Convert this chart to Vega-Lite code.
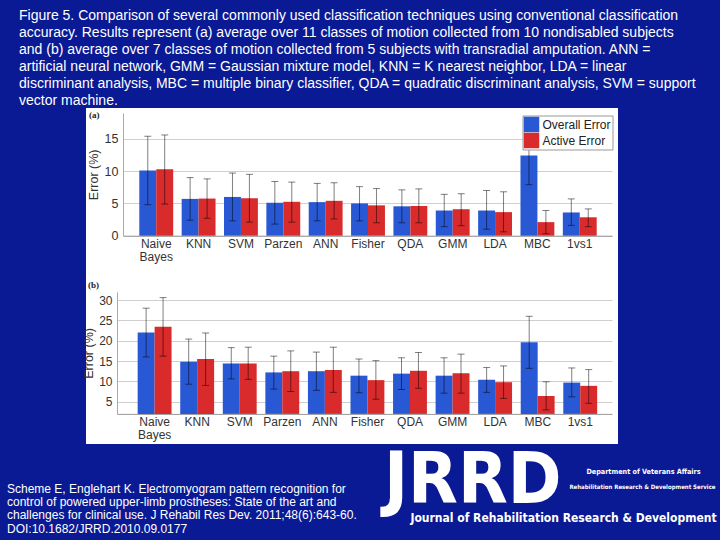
{
  "$schema": "https://vega.github.io/schema/vega-lite/v6.json",
  "background": "#0a1a94",
  "padding": {"left": 7, "top": 9, "right": 0, "bottom": 0},
  "autosize": {"type": "pad"},
  "title": {
    "text": [
      "Figure 5. Comparison of several commonly used classification techniques using conventional classification",
      "accuracy. Results represent (a) average over 11 classes of motion collected from 10 nondisabled subjects",
      "and (b) average over 7 classes of motion collected from 5 subjects with transradial amputation. ANN =",
      "artificial neural network, GMM = Gaussian mixture model, KNN = K nearest neighbor, LDA = linear",
      "discriminant analysis, MBC = multiple binary classifier, QDA = quadratic discriminant analysis, SVM = support",
      "vector machine."
    ],
    "anchor": "start",
    "frame": "bounds",
    "dx": 12,
    "offset": 0,
    "color": "white",
    "font": "Liberation Sans",
    "fontSize": 14,
    "fontWeight": "normal",
    "lineHeight": 17,
    "baseline": "top"
  },
  "datasets": {
    "a": [
      {"method": "Naive Bayes", "series": "Overall Error", "value": 10.1, "lo": 4.8, "hi": 15.4},
      {"method": "Naive Bayes", "series": "Active Error", "value": 10.3, "lo": 4.9, "hi": 15.6},
      {"method": "KNN", "series": "Overall Error", "value": 5.7, "lo": 2.4, "hi": 9.0},
      {"method": "KNN", "series": "Active Error", "value": 5.75, "lo": 2.7, "hi": 8.8},
      {"method": "SVM", "series": "Overall Error", "value": 6.0, "lo": 2.3, "hi": 9.7},
      {"method": "SVM", "series": "Active Error", "value": 5.8, "lo": 2.1, "hi": 9.5},
      {"method": "Parzen", "series": "Overall Error", "value": 5.1, "lo": 1.8, "hi": 8.4},
      {"method": "Parzen", "series": "Active Error", "value": 5.25, "lo": 2.1, "hi": 8.3},
      {"method": "ANN", "series": "Overall Error", "value": 5.2, "lo": 2.3, "hi": 8.1},
      {"method": "ANN", "series": "Active Error", "value": 5.4, "lo": 2.6, "hi": 8.2},
      {"method": "Fisher", "series": "Overall Error", "value": 5.0, "lo": 2.3, "hi": 7.6},
      {"method": "Fisher", "series": "Active Error", "value": 4.7, "lo": 2.0, "hi": 7.3},
      {"method": "QDA", "series": "Overall Error", "value": 4.55, "lo": 2.0, "hi": 7.1},
      {"method": "QDA", "series": "Active Error", "value": 4.6, "lo": 2.0, "hi": 7.25},
      {"method": "GMM", "series": "Overall Error", "value": 3.9, "lo": 1.4, "hi": 6.4},
      {"method": "GMM", "series": "Active Error", "value": 4.1, "lo": 1.55, "hi": 6.5},
      {"method": "LDA", "series": "Overall Error", "value": 3.9, "lo": 1.0, "hi": 7.0},
      {"method": "LDA", "series": "Active Error", "value": 3.65, "lo": 0.6, "hi": 6.8},
      {"method": "MBC", "series": "Overall Error", "value": 12.4, "lo": 7.9, "hi": 16.9},
      {"method": "MBC", "series": "Active Error", "value": 2.1, "lo": 0.3, "hi": 3.9},
      {"method": "1vs1", "series": "Overall Error", "value": 3.6, "lo": 1.6, "hi": 5.7},
      {"method": "1vs1", "series": "Active Error", "value": 2.85, "lo": 1.4, "hi": 4.15}
    ],
    "b": [
      {"method": "Naive Bayes", "series": "Overall Error", "value": 22.0, "lo": 16.0, "hi": 28.0},
      {"method": "Naive Bayes", "series": "Active Error", "value": 23.4, "lo": 16.2, "hi": 30.6},
      {"method": "KNN", "series": "Overall Error", "value": 14.8, "lo": 9.3, "hi": 20.4},
      {"method": "KNN", "series": "Active Error", "value": 15.5, "lo": 9.0, "hi": 21.9},
      {"method": "SVM", "series": "Overall Error", "value": 14.4, "lo": 10.6, "hi": 18.3},
      {"method": "SVM", "series": "Active Error", "value": 14.4, "lo": 10.5, "hi": 18.4},
      {"method": "Parzen", "series": "Overall Error", "value": 12.2, "lo": 8.1, "hi": 16.2},
      {"method": "Parzen", "series": "Active Error", "value": 12.5, "lo": 7.5, "hi": 17.5},
      {"method": "ANN", "series": "Overall Error", "value": 12.5, "lo": 7.8, "hi": 17.2},
      {"method": "ANN", "series": "Active Error", "value": 12.8, "lo": 7.3, "hi": 18.4},
      {"method": "Fisher", "series": "Overall Error", "value": 11.4, "lo": 7.2, "hi": 15.5},
      {"method": "Fisher", "series": "Active Error", "value": 10.3, "lo": 5.6, "hi": 15.1},
      {"method": "QDA", "series": "Overall Error", "value": 11.9, "lo": 8.0, "hi": 15.8},
      {"method": "QDA", "series": "Active Error", "value": 12.6, "lo": 8.3, "hi": 17.1},
      {"method": "GMM", "series": "Overall Error", "value": 11.4, "lo": 7.1, "hi": 15.8},
      {"method": "GMM", "series": "Active Error", "value": 12.0, "lo": 7.1, "hi": 16.7},
      {"method": "LDA", "series": "Overall Error", "value": 10.4, "lo": 7.3, "hi": 13.4},
      {"method": "LDA", "series": "Active Error", "value": 9.8, "lo": 5.8, "hi": 13.8},
      {"method": "MBC", "series": "Overall Error", "value": 19.6, "lo": 13.2, "hi": 26.0},
      {"method": "MBC", "series": "Active Error", "value": 6.4, "lo": 3.0, "hi": 9.9},
      {"method": "1vs1", "series": "Overall Error", "value": 9.7, "lo": 6.2, "hi": 13.3},
      {"method": "1vs1", "series": "Active Error", "value": 8.9, "lo": 4.6, "hi": 12.9}
    ]
  },
  "align": "each",
  "spacing": 0,
  "vconcat": [
    {
      "width": 532,
      "height": 164,
      "view": {"fill": "white", "stroke": null},
      "title": {"text": "(a)", "anchor": "start", "frame": "group", "offset": -12, "dx": 3, "font": "Liberation Serif", "fontSize": 9, "fontWeight": "bold", "color": "#222"},
      "data": {"name": "a"},
      "encoding": {
        "x": {
          "field": "method", "type": "nominal", "sort": null,
          "scale": {"range": [37, 526], "paddingInner": 0.2, "paddingOuter": 0.373, "align": 0.516},
          "axis": {"title": null, "offset": -36.3, "labelExpr": "split(datum.label, ' ')", "labelAngle": 0, "labelFontSize": 12, "labelColor": "#333", "labelPadding": 3, "labelLineHeight": 12.5, "ticks": false, "domainColor": "#999", "grid": false}
        },
        "xOffset": {"field": "series", "type": "nominal", "sort": ["Overall Error", "Active Error"]}
      },
      "layer": [
        {
          "mark": {"type": "bar"},
          "encoding": {
            "y": {
              "field": "value", "type": "quantitative",
              "scale": {"domain": [0, 19], "range": [127.7, 5], "nice": false},
              "axis": {"title": "Error (%)", "offset": -37, "tickCount": 4, "grid": true, "gridColor": "#cfcfcf", "domainColor": "#aaa", "ticks": false, "labelPadding": 5, "labelFontSize": 12.5, "labelColor": "#333", "titleFontSize": 12.5, "titleColor": "#333", "titleFontWeight": "normal", "titlePadding": 4}
            },
            "color": {
              "field": "series", "type": "nominal",
              "scale": {"domain": ["Overall Error", "Active Error"], "range": ["#2958d4", "#d92b2b"]},
              "legend": {"orient": "none", "legendX": 436.5, "legendY": 7.5}
            }
          }
        },
        {
          "mark": {"type": "rule", "color": "black", "opacity": 0.5, "strokeWidth": 1},
          "encoding": {"y": {"field": "lo", "type": "quantitative"}, "y2": {"field": "hi"}}
        },
        {
          "mark": {"type": "tick", "color": "black", "opacity": 0.5, "thickness": 1, "size": 7},
          "encoding": {"y": {"field": "lo", "type": "quantitative"}}
        },
        {
          "mark": {"type": "tick", "color": "black", "opacity": 0.5, "thickness": 1, "size": 7},
          "encoding": {"y": {"field": "hi", "type": "quantitative"}}
        }
      ]
    },
    {
      "width": 532,
      "height": 172,
      "view": {"fill": "white", "stroke": null},
      "title": {"text": "(b)", "anchor": "start", "frame": "group", "offset": -18, "dx": 2, "font": "Liberation Serif", "fontSize": 9, "fontWeight": "bold", "color": "#222"},
      "data": {"name": "b"},
      "encoding": {
        "x": {
          "field": "method", "type": "nominal", "sort": null,
          "scale": {"range": [31, 526], "paddingInner": 0.2, "paddingOuter": 0.415, "align": 0.585},
          "axis": {"title": null, "offset": -30.1, "labelExpr": "split(datum.label, ' ')", "labelAngle": 0, "labelFontSize": 12, "labelColor": "#333", "labelPadding": 3, "labelLineHeight": 12.5, "ticks": false, "domainColor": "#999", "grid": false}
        },
        "xOffset": {"field": "series", "type": "nominal", "sort": ["Overall Error", "Active Error"]}
      },
      "layer": [
        {
          "mark": {"type": "bar"},
          "encoding": {
            "y": {
              "field": "value", "type": "quantitative",
              "scale": {"domain": [2, 32], "range": [141.9, 19.9], "nice": false, "zero": false},
              "axis": {"title": "Error (%)", "offset": -31, "tickCount": 6, "grid": true, "gridColor": "#cfcfcf", "domainColor": "#aaa", "ticks": false, "labelPadding": 5, "labelFontSize": 12, "labelColor": "#333", "titleFontSize": 12.5, "titleColor": "#333", "titleFontWeight": "normal", "titlePadding": 3}
            },
            "y2": {"datum": 2},
            "color": {
              "field": "series", "type": "nominal",
              "scale": {"domain": ["Overall Error", "Active Error"], "range": ["#2958d4", "#d92b2b"]},
              "legend": {"orient": "none", "legendX": 436.7, "legendY": 23}
            }
          }
        },
        {
          "mark": {"type": "rule", "color": "black", "opacity": 0.5, "strokeWidth": 1},
          "encoding": {"y": {"field": "lo", "type": "quantitative"}, "y2": {"field": "hi"}}
        },
        {
          "mark": {"type": "tick", "color": "black", "opacity": 0.5, "thickness": 1, "size": 7},
          "encoding": {"y": {"field": "lo", "type": "quantitative"}}
        },
        {
          "mark": {"type": "tick", "color": "black", "opacity": 0.5, "thickness": 1, "size": 7},
          "encoding": {"y": {"field": "hi", "type": "quantitative"}}
        }
      ]
    },
    {
      "width": 634,
      "height": 96,
      "view": {"fill": "#0a1a94", "stroke": null},
      "data": {"values": [{}]},
      "layer": [
        {"mark": {"type": "text", "text": ["Scheme E, Englehart K. Electromyogram pattern recognition for", "control of powered upper-limb prostheses: State of the art and", "challenges for clinical use. J Rehabil Res Dev. 2011;48(6):643-60.", "DOI:10.1682/JRRD.2010.09.0177"], "x": -79, "y": 44.3, "align": "left", "baseline": "middle", "font": "Liberation Sans", "fontSize": 12, "lineHeight": 13.1, "color": "white"}},
        {"mark": {"type": "text", "text": "JRRD", "x": 298, "y": 57.7, "align": "left", "baseline": "alphabetic", "font": "Liberation Sans Narrow, DejaVu Sans Condensed, Liberation Sans", "fontSize": 72, "fontWeight": "bold", "color": "white"}},
        {"mark": {"type": "text", "text": "Department of Veterans Affairs", "x": 557.5, "y": 27, "align": "center", "baseline": "middle", "font": "Liberation Sans Narrow, DejaVu Sans Condensed, Liberation Sans", "fontSize": 7.2, "fontWeight": "bold", "color": "white"}},
        {"mark": {"type": "text", "text": "Rehabilitation Research & Development Service", "x": 556.5, "y": 41.7, "align": "center", "baseline": "middle", "font": "Liberation Sans Narrow, DejaVu Sans Condensed, Liberation Sans", "fontSize": 6, "fontWeight": "bold", "color": "white"}},
        {"mark": {"type": "text", "text": "Journal of Rehabilitation Research & Development", "x": 477.5, "y": 72.7, "align": "center", "baseline": "middle", "font": "Liberation Sans Narrow, DejaVu Sans Condensed, Liberation Sans", "fontSize": 12, "fontWeight": "bold", "color": "white"}}
      ]
    }
  ],
  "config": {
    "font": "Liberation Sans",
    "view": {"stroke": null},
    "axis": {"labelOverlap": false},
    "legend": {
      "title": null,
      "symbolType": "square",
      "symbolSize": 240,
      "symbolStrokeWidth": 0,
      "fillColor": "white",
      "strokeColor": "#999",
      "padding": 1,
      "rowPadding": 0,
      "labelFontSize": 12,
      "labelColor": "#222",
      "labelOffset": 3,
      "symbolOffset": 0
    }
  }
}
